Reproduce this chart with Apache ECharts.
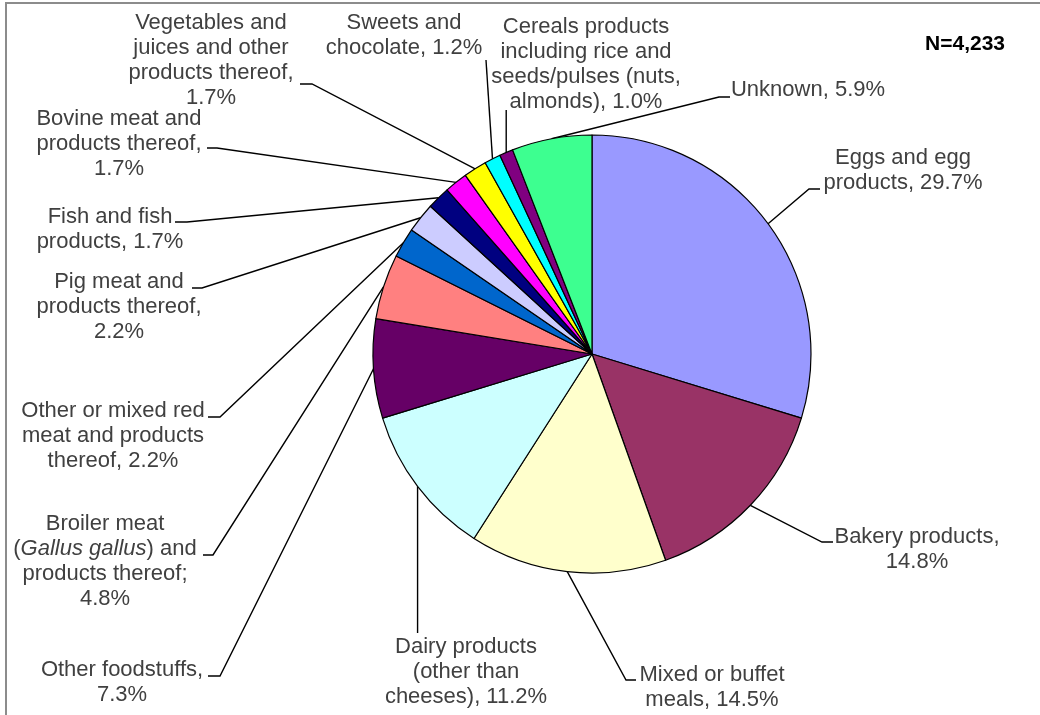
<!DOCTYPE html>
<html>
<head>
<meta charset="utf-8">
<script src="https://cdn.jsdelivr.net/npm/echarts@6/dist/echarts.min.js"></script>
<style>
html,body{margin:0;padding:0;background:#fff;}
#chart{width:1040px;height:715px;}
</style>
</head>
<body>
<div id="chart"></div>
<script>
// ---- data ----
const categories = [
  'Eggs and egg products',
  'Bakery products',
  'Mixed or buffet meals',
  'Dairy products (other than cheeses)',
  'Other foodstuffs',
  'Broiler meat (Gallus gallus) and products thereof',
  'Other or mixed red meat and products thereof',
  'Pig meat and products thereof',
  'Fish and fish products',
  'Bovine meat and products thereof',
  'Vegetables and juices and other products thereof',
  'Sweets and chocolate',
  'Cereals products including rice and seeds/pulses (nuts, almonds)',
  'Unknown'
];
const shares = [29.7, 14.8, 14.5, 11.2, 7.3, 4.8, 2.2, 2.2, 1.7, 1.7, 1.7, 1.2, 1.0, 5.9];
const labelTemplates = [
  'Eggs and egg\nproducts, {v}%',
  'Bakery products,\n{v}%',
  'Mixed or buffet\nmeals, {v}%',
  'Dairy products\n(other than\ncheeses), {v}%',
  'Other foodstuffs,\n{v}%',
  'Broiler meat\n({i|Gallus gallus}) and\nproducts thereof;\n{v}%',
  'Other or mixed red\nmeat and products\nthereof, {v}%',
  'Pig meat and\nproducts thereof,\n{v}%',
  'Fish and fish\nproducts, {v}%',
  'Bovine meat and\nproducts thereof,\n{v}%',
  'Vegetables and\njuices and other\nproducts thereof,\n{v}%',
  'Sweets and\nchocolate, {v}%',
  'Cereals products\nincluding rice and\nseeds/pulses (nuts,\nalmonds), {v}%',
  'Unknown, {v}%'
];
const sliceColors = ['#9999FF','#993366','#FFFFCC','#CCFFFF','#660066','#FF8080','#0066CC',
                     '#CCCCFF','#000080','#FF00FF','#FFFF00','#00FFFF','#800080','#3DFF90'];
const totalLabel = 'N=4,233';

// ---- layout of labels (text centre, leader knee, leader end); null x = vertical from slice ----
const labelPlacement = [
  {x: 903, y: 170, knee: [809, 189], end: [820, 189]},
  {x: 917, y: 549, knee: [822, 542], end: [833, 542]},
  {x: 712, y: 687, knee: [626, 680], end: [636, 680]},
  {x: 466, y: 672, knee: [null, 633], end: [null, 633]},
  {x: 122, y: 682, knee: [220, 676], end: [208, 676]},
  {x: 105, y: 561, knee: [213, 555], end: [203, 555]},
  {x: 113, y: 436, knee: [220, 417], end: [208, 417]},
  {x: 119, y: 307, knee: [202, 288], end: [192, 288]},
  {x: 110, y: 229, knee: [187, 222], end: [175, 222]},
  {x: 119, y: 144, knee: [217, 148], end: [207, 148]},
  {x: 211, y: 60,  knee: [312, 84],  end: [300, 84]},
  {x: 404, y: 35,  knee: [486, 60],  end: [486, 60]},
  {x: 586, y: 64,  knee: [null, 110], end: [null, 110]},
  {x: 808, y: 90,  knee: [719, 97],  end: [730, 97]}
];

const FONT = '"Liberation Sans", Arial, sans-serif';
const chart = echarts.init(document.getElementById('chart'), null, {renderer: 'canvas'});

const data = categories.map((name, i) => ({
  name: name,
  value: shares[i],
  itemStyle: {color: sliceColors[i]}
}));

chart.setOption({
  animation: false,
  backgroundColor: '#fff',
  title: {
    text: totalLabel,
    right: 30,
    top: 29,
    textStyle: {fontFamily: FONT, fontWeight: 'bold', fontSize: 21, color: '#000'}
  },
  graphic: [{
    type: 'polyline',
    silent: true,
    shape: {points: [[6, 730], [6, 3], [1050, 3]]},
    style: {stroke: '#8c8c8c', lineWidth: 2, fill: null}
  }],
  series: [{
    type: 'pie',
    center: [592, 354],
    radius: 219,
    startAngle: 90,
    clockwise: true,
    avoidLabelOverlap: false,
    silent: true,
    data: data,
    itemStyle: {borderColor: '#000', borderWidth: 1.2},
    emphasis: {disabled: true},
    label: {
      show: true,
      position: 'outside',
      fontFamily: FONT,
      fontSize: 22,
      lineHeight: 25,
      color: '#404040',
      formatter: function (p) {
        return labelTemplates[p.dataIndex].replace('{v}', shares[p.dataIndex].toFixed(1));
      },
      rich: {
        i: {fontFamily: FONT, fontStyle: 'italic', fontSize: 22, lineHeight: 25, color: '#404040'}
      }
    },
    labelLine: {
      show: true,
      smooth: false,
      lineStyle: {color: '#000', width: 1.4}
    },
    labelLayout: function (params) {
      const L = labelPlacement[params.dataIndex];
      const start = params.labelLinePoints ? params.labelLinePoints[0] : null;
      const out = {x: L.x, y: L.y, align: 'center', verticalAlign: 'middle'};
      if (start) {
        const kx = L.knee[0] == null ? start[0] : L.knee[0];
        const ex = L.end[0] == null ? start[0] : L.end[0];
        out.labelLinePoints = [[start[0], start[1]], [kx, L.knee[1]], [ex, L.end[1]]];
      }
      return out;
    }
  }]
});
</script>
</body>
</html>
